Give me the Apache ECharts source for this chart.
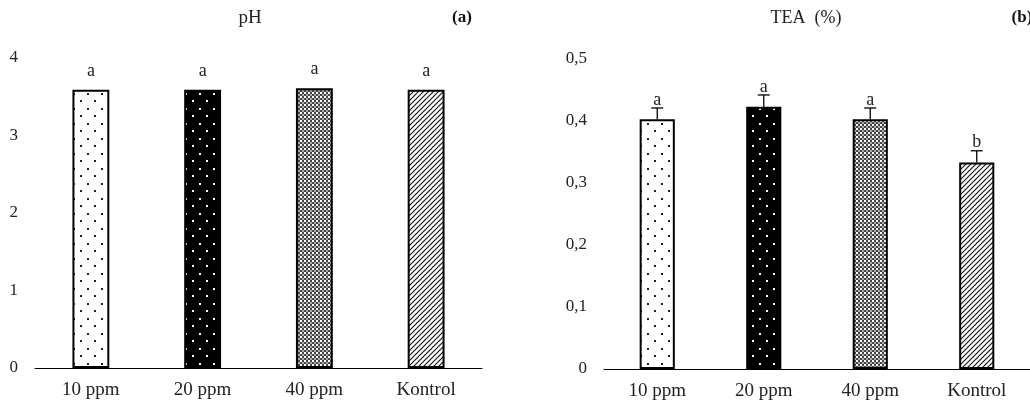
<!DOCTYPE html>
<html>
<head>
<meta charset="utf-8">
<script src="https://cdn.jsdelivr.net/npm/echarts@6/dist/echarts.min.js"></script>
<style>
html,body{margin:0;padding:0;background:#fff;}
#chart{width:1030px;height:408px;}
</style>
</head>
<body>
<div id="chart"></div>
<script>
// ---- data ----
const categories = ['10 ppm', '20 ppm', '40 ppm', 'Kontrol'];
const phValues = [3.59, 3.59, 3.61, 3.59];
const phLetters = ['a', 'a', 'a', 'a'];
const teaValues = [0.403, 0.423, 0.403, 0.333];
const teaErrors = [0.018, 0.019, 0.018, 0.019];
const teaLetters = ['a', 'a', 'a', 'b'];
const phTicks = [0, 1, 2, 3, 4];
const teaTicks = ['0', '0,1', '0,2', '0,3', '0,4', '0,5'];

const FONT = '"Liberation Serif", "DejaVu Serif", serif';

function makeCanvas(w, h, draw) {
  const c = document.createElement('canvas');
  c.width = w; c.height = h;
  draw(c.getContext('2d'));
  return c;
}
// white with sparse black dots
const patDotsWhite = makeCanvas(14, 15, ctx => {
  ctx.fillStyle = '#fff'; ctx.fillRect(0, 0, 14, 15);
  ctx.fillStyle = '#222';
  ctx.fillRect(3, 3, 2, 2);
  ctx.fillRect(10, 10, 2, 2);
});
// black with sparse white dots
const patDotsBlack = makeCanvas(14, 15, ctx => {
  ctx.fillStyle = '#000'; ctx.fillRect(0, 0, 14, 15);
  ctx.fillStyle = '#fff';
  ctx.fillRect(3, 3, 2, 2);
  ctx.fillRect(10, 10, 2, 2);
});
// dense grey checker grid
const patGrid = makeCanvas(4, 4, ctx => {
  ctx.fillStyle = '#444'; ctx.fillRect(0, 0, 4, 4);
  ctx.fillStyle = '#fff';
  ctx.fillRect(0, 0, 2, 2);
  ctx.fillStyle = '#aaa';
  ctx.fillRect(2, 2, 2, 2);
});
// diagonal hatch "/"
const patHatch = makeCanvas(5, 5, ctx => {
  ctx.fillStyle = '#fff'; ctx.fillRect(0, 0, 5, 5);
  ctx.strokeStyle = '#111'; ctx.lineWidth = 1.1;
  ctx.beginPath();
  ctx.moveTo(-1, 6); ctx.lineTo(6, -1);
  ctx.moveTo(-4, 4); ctx.lineTo(4, -4);
  ctx.moveTo(1, 9); ctx.lineTo(9, 1);
  ctx.stroke();
});
const patterns = [patDotsWhite, patDotsBlack, patGrid, patHatch];

function barData(values) {
  return values.map((v, i) => ({
    value: v,
    itemStyle: { color: { image: patterns[i], repeat: 'repeat' } }
  }));
}

const chart = echarts.init(document.getElementById('chart'), null, { renderer: 'canvas' });

const axisLabelStyle = { color: '#222', fontFamily: FONT, fontSize: 17 };

const option = {
  animation: false,
  backgroundColor: '#fff',
  grid: [
    { left: 35, top: 58, width: 447, height: 310, containLabel: false },
    { left: 604, top: 59, width: 435, height: 310, containLabel: false }
  ],
  xAxis: [0, 1].map(g => ({
    type: 'category', gridIndex: g, data: categories,
    axisLine: { show: true, lineStyle: { color: '#000', width: 1 } },
    axisTick: { show: false },
    axisLabel: Object.assign({}, axisLabelStyle, { margin: 13, fontSize: 19 }),
    splitLine: { show: false }
  })),
  yAxis: [
    {
      type: 'value', gridIndex: 0, min: 0, max: 4, interval: 1,
      axisLine: { show: false }, axisTick: { show: false }, splitLine: { show: false },
      axisLabel: Object.assign({ margin: 17, formatter: v => String(phTicks[Math.round(v)]) }, axisLabelStyle)
    },
    {
      type: 'value', gridIndex: 1, min: 0, max: 0.5, interval: 0.1,
      axisLine: { show: false }, axisTick: { show: false }, splitLine: { show: false },
      axisLabel: Object.assign({ margin: 17, formatter: v => teaTicks[Math.round(v * 10)] }, axisLabelStyle)
    }
  ],
  graphic: [
    { type: 'text', x: 250, y: 18, style: { text: 'pH', font: '19px ' + FONT, fill: '#222', align: 'center', verticalAlign: 'middle' } },
    { type: 'text', x: 462, y: 18, style: { text: '(a)', font: 'bold 17px ' + FONT, fill: '#111', align: 'center', verticalAlign: 'middle' } },
    { type: 'text', x: 806, y: 18, style: { text: 'TEA  (%)', font: '18px ' + FONT, fill: '#222', align: 'center', verticalAlign: 'middle' } },
    { type: 'text', x: 1022, y: 18, style: { text: '(b)', font: 'bold 17px ' + FONT, fill: '#111', align: 'center', verticalAlign: 'middle' } }
  ],
  series: [
    {
      type: 'bar', xAxisIndex: 0, yAxisIndex: 0, data: barData(phValues),
      barWidth: '33%',
      itemStyle: { borderColor: '#000', borderWidth: 2 }
    },
    {
      type: 'bar', xAxisIndex: 1, yAxisIndex: 1, data: barData(teaValues),
      barWidth: '33%',
      itemStyle: { borderColor: '#000', borderWidth: 2 }
    },
    {
      type: 'custom', xAxisIndex: 1, yAxisIndex: 1, z: 5,
      data: teaValues.map((v, i) => [i, v, teaErrors[i]]),
      renderItem: function (params, api) {
        const x = api.value(0), v = api.value(1), e = api.value(2);
        const base = api.coord([x, v]);
        const top = api.coord([x, v + e]);
        return {
          type: 'group',
          children: [
            { type: 'line', shape: { x1: base[0], y1: base[1], x2: top[0], y2: top[1] }, style: { stroke: '#000', lineWidth: 1.3 } },
            { type: 'line', shape: { x1: top[0] - 6, y1: top[1], x2: top[0] + 6, y2: top[1] }, style: { stroke: '#000', lineWidth: 1.3 } }
          ]
        };
      }
    },
    {
      type: 'custom', xAxisIndex: 1, yAxisIndex: 1, z: 6,
      data: teaValues.map((v, i) => [i, v + teaErrors[i]]),
      renderItem: function (params, api) {
        const p = api.coord([api.value(0), api.value(1)]);
        return {
          type: 'text',
          style: { text: teaLetters[params.dataIndex], x: p[0], y: p[1] - 8, align: 'center', verticalAlign: 'middle', font: '18px ' + FONT, fill: '#222' }
        };
      }
    },
    {
      type: 'custom', xAxisIndex: 0, yAxisIndex: 0, z: 6,
      data: phValues.map((v, i) => [i, v]),
      renderItem: function (params, api) {
        const p = api.coord([api.value(0), api.value(1)]);
        return {
          type: 'text',
          style: { text: phLetters[params.dataIndex], x: p[0], y: p[1] - 19, align: 'center', verticalAlign: 'middle', font: '18px ' + FONT, fill: '#222' }
        };
      }
    }
  ]
};
chart.setOption(option);
</script>
</body>
</html>
